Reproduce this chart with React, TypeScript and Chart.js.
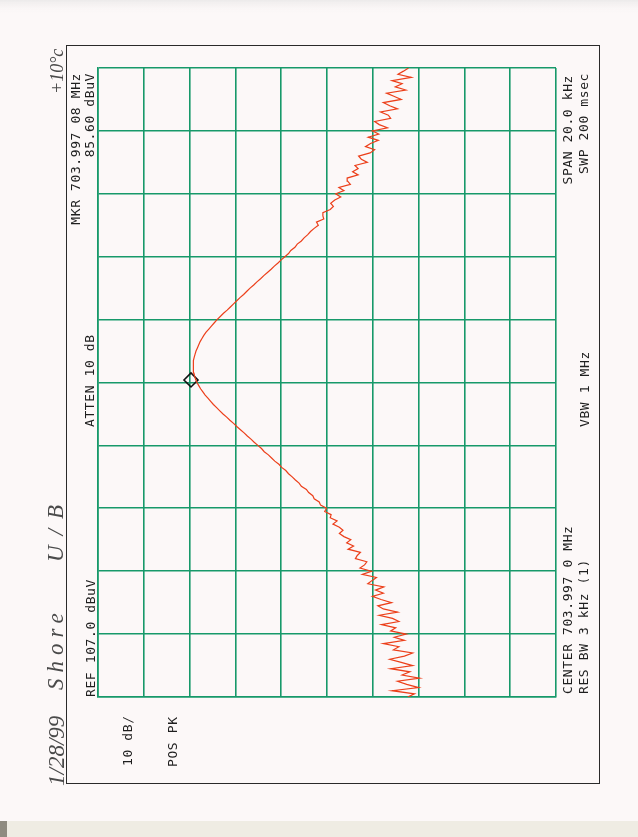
import React, { useEffect, useRef } from "react";
import { Chart, registerables } from "chart.js";

Chart.register(...registerables);

// ---- instrument settings ----
const refLevelDbuV = 107;
const dbPerDiv = 10;
const ampDivisions = 10;
const spanKHz = 20;
const freqDivisions = 10;

// amplitude grid ticks (dBuV) and frequency grid ticks (kHz offset from center)
const ampTicks = [107, 97, 87, 77, 67, 57, 47, 37, 27, 17, 7];
const freqTicksKHz = [-10, -8, -6, -4, -2, 0, 2, 4, 6, 8, 10];

// sweep frequency offsets (kHz from 703.997 0 MHz), 0.1 kHz per point
const sweepStepKHz = 0.1;
const sweepStartKHz = -10;

// trace amplitude (dBuV), from -10 kHz to +10 kHz
const traceDbuV = [
  39.4, 37.9, 42.8, 37.0, 39.6, 41.6, 36.8, 40.6, 38.9, 43.1,
  38.3, 40.8, 43.3, 40.1, 38.3, 42.5, 41.3, 44.7, 40.1, 42.3,
  39.7, 43.1, 42.0, 45.1, 41.3, 42.7, 45.6, 41.6, 44.7, 45.9,
  42.9, 45.2, 47.1, 44.7, 46.4, 44.6, 48.1, 47.2, 46.2, 49.3,
  47.3, 49.8, 48.8, 48.3, 50.8, 50.4, 49.7, 52.4, 51.2, 52.7,
  51.8, 53.3, 54.3, 53.5, 54.3, 55.7, 54.8, 56.3, 56.1, 57.5,
  57.1, 58.4, 58.7, 59.8, 60.1, 61.0, 61.5, 62.6, 63.1, 63.9,
  64.6, 65.4, 66.0, 66.9, 67.5, 68.4, 69.1, 69.8, 70.7, 71.3,
  72.1, 72.9, 73.6, 74.4, 75.1, 75.9, 76.7, 77.4, 78.2, 78.9,
  79.7, 80.4, 81.1, 81.8, 82.4, 83.0, 83.6, 84.1, 84.6, 85.0,
  85.4, 85.7, 85.9, 86.05, 86.15, 86.2, 86.2, 86.15, 86.0, 85.8,
  85.6, 85.3, 85.0, 84.7, 84.3, 83.9, 83.4, 82.8, 82.2, 81.6,
  81.0, 80.3, 79.6, 78.8, 78.1, 77.4, 76.7, 76.0, 75.2, 74.5,
  73.8, 73.0, 72.3, 71.5, 70.8, 70.0, 69.2, 68.5, 67.7, 67.0,
  66.2, 65.4, 64.9, 64.0, 63.5, 62.6, 62.0, 61.2, 60.6, 59.8,
  58.9, 59.3, 57.7, 57.9, 57.9, 56.3, 55.6, 56.2, 55.3, 54.0,
  55.1, 53.3, 54.4, 51.9, 52.5, 52.6, 50.2, 51.4, 50.2, 50.9,
  48.2, 49.5, 50.1, 47.6, 46.6, 48.6, 47.5, 45.8, 48.0, 45.7,
  47.1, 43.8, 45.6, 46.6, 43.1, 43.6, 45.3, 41.6, 43.3, 44.7,
  40.8, 42.4, 44.0, 39.8, 42.1, 40.6, 42.8, 38.6, 41.5, 40.3,
  39.2,
];

// marker (as drawn on the plot)
const markerOffsetKHz = 0.08;
const markerPlotDbuV = 86.7;

// annotation texts
const leftTexts = ["MKR 703.997 08 MHz", "85.60 dBuV", "ATTEN 10 dB", "REF 107.0 dBuV", "10 dB/", "POS PK"];
const rightTexts = ["SPAN 20.0 kHz", "SWP 200 msec", "VBW 1 MHz", "CENTER 703.997 0 MHz", "RES BW 3 kHz (1)"];
const handTexts = ["1/28/99", "Shore", "U/B", "+10°c"];

const GREEN = "#17996a";
const TRACE = "#ec3f1a";

function vText(ctx: CanvasRenderingContext2D, t: string, x: number, y: number, align: CanvasTextAlign) {
  ctx.save();
  ctx.translate(x, y);
  ctx.rotate(-Math.PI / 2);
  ctx.textAlign = align;
  ctx.textBaseline = "alphabetic";
  ctx.fillText(t, 0, 0);
  ctx.restore();
}

const decorPlugin = {
  id: "decor",
  beforeDraw(chart: any) {
    const ctx = chart.ctx as CanvasRenderingContext2D;
    ctx.save();
    const g = ctx.createLinearGradient(0, 0, 0, 14);
    g.addColorStop(0, "#eceaea");
    g.addColorStop(1, "rgba(252,248,248,0)");
    ctx.fillStyle = g;
    ctx.fillRect(0, 0, 638, 14);
    ctx.fillStyle = "#efece3";
    ctx.fillRect(0, 821, 638, 16);
    ctx.fillStyle = "#8f8b80";
    ctx.fillRect(0, 821, 7, 16);
    ctx.strokeStyle = "#2a2a2a";
    ctx.lineWidth = 1;
    ctx.strokeRect(66.5, 45.5, 533, 738);
    ctx.restore();
  },
  afterDraw(chart: any) {
    const ctx = chart.ctx as CanvasRenderingContext2D;
    ctx.save();
    ctx.fillStyle = "#1e1e1e";
    ctx.font = "13px 'DejaVu Sans Mono'";
    (ctx as any).letterSpacing = "0.6px";
    vText(ctx, leftTexts[0], 80, 73, "right");
    vText(ctx, leftTexts[1], 94, 73, "right");
    vText(ctx, leftTexts[2], 94, 427, "left");
    vText(ctx, leftTexts[3], 95, 697, "left");
    vText(ctx, leftTexts[4], 132, 766, "left");
    vText(ctx, leftTexts[5], 177, 767, "left");
    vText(ctx, rightTexts[0], 572, 75, "right");
    vText(ctx, rightTexts[1], 588, 73, "right");
    vText(ctx, rightTexts[2], 589, 427, "left");
    vText(ctx, rightTexts[3], 572, 694, "left");
    vText(ctx, rightTexts[4], 588, 694, "left");
    // handwriting
    ctx.fillStyle = "#4a4a4a";
    ctx.font = "italic 23px 'Liberation Serif'";
    (ctx as any).letterSpacing = "0px";
    vText(ctx, handTexts[0], 64, 786, "left");
    (ctx as any).letterSpacing = "6px";
    vText(ctx, handTexts[1], 63, 690, "left");
    (ctx as any).letterSpacing = "10px";
    vText(ctx, handTexts[2], 63, 562, "left");
    (ctx as any).letterSpacing = "0px";
    ctx.font = "italic 18px 'Liberation Serif'";
    vText(ctx, handTexts[3], 63, 94, "left");
    ctx.restore();
  },
};

export default function App() {
  const ref = useRef<HTMLCanvasElement>(null);
  useEffect(() => {
    if (!ref.current) return;
    const pts = traceDbuV.map((v, i) => ({ x: v, y: sweepStartKHz + i * sweepStepKHz }));
    const chart = new Chart(ref.current, {
      type: "scatter",
      data: {
        datasets: [
          {
            data: pts,
            showLine: true,
            borderColor: TRACE,
            borderWidth: 1.2,
            pointRadius: 0,
            tension: 0,
          },
          {
            data: [{ x: markerPlotDbuV, y: markerOffsetKHz }],
            showLine: false,
            pointStyle: "rectRot",
            pointRadius: 7,
            borderColor: "#111",
            borderWidth: 1.6,
            backgroundColor: "rgba(0,0,0,0)",
          },
        ],
      },
      options: {
        animation: false,
        responsive: false,
        maintainAspectRatio: false,
        devicePixelRatio: 1,
        layout: { padding: { left: 98, top: 68, right: 82, bottom: 140 } },
        plugins: { legend: { display: false }, tooltip: { enabled: false } },
        scales: {
          x: {
            type: "linear",
            reverse: true,
            min: refLevelDbuV - dbPerDiv * ampDivisions,
            max: refLevelDbuV,
            afterBuildTicks: (s: any) => {
              s.ticks = ampTicks.map((v) => ({ value: v }));
            },
            afterFit: (s: any) => {
              s.height = 0;
            },
            ticks: { display: false },
            grid: { color: GREEN, lineWidth: 1.6, drawTicks: false },
            border: { display: true, color: GREEN, width: 1.6 },
          },
          y: {
            type: "linear",
            min: -spanKHz / 2,
            max: spanKHz / 2,
            afterBuildTicks: (s: any) => {
              s.ticks = freqTicksKHz.map((v) => ({ value: v }));
            },
            afterFit: (s: any) => {
              s.width = 0;
            },
            ticks: { display: false, count: freqDivisions + 1 },
            grid: { color: GREEN, lineWidth: 1.6, drawTicks: false },
            border: { display: true, color: GREEN, width: 1.6 },
          },
        },
      },
      plugins: [decorPlugin],
    });
    return () => chart.destroy();
  }, []);
  return (
    <div style={{ position: "fixed", left: 0, top: 0, width: 638, height: 837, background: "#fcf8f8" }}>
      <canvas ref={ref} width={638} height={837} style={{ display: "block", width: 638, height: 837 }} />
    </div>
  );
}
